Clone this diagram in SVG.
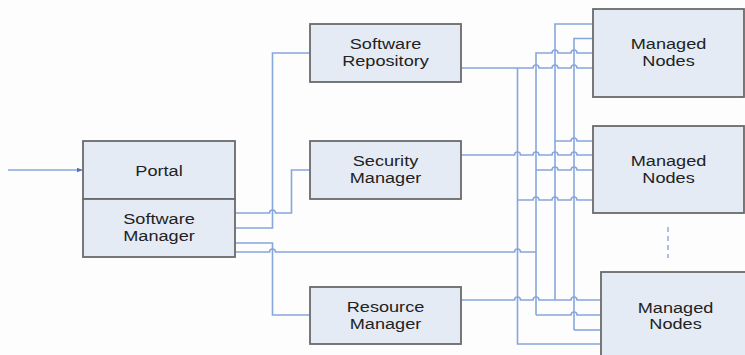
<svg xmlns="http://www.w3.org/2000/svg" width="745" height="355" viewBox="0 0 745 355">
  <style>
    .box { fill: #e5ebf5; stroke: #6a6a6a; stroke-width: 1.8; }
    .lbl { font-family: "Liberation Sans", Arial, sans-serif; font-size: 15px; fill: #222; text-anchor: middle; }
    .wire { fill: none; stroke: #86a7dc; stroke-width: 1.6; }
    .dash { fill: none; stroke: #86a7dc; stroke-width: 1.4; stroke-dasharray: 5 4; }
  </style>
  <defs>
    <marker id="arrow" viewBox="0 0 10 10" refX="9" refY="5" markerWidth="6" markerHeight="6" orient="auto" markerUnits="userSpaceOnUse">
      <path d="M0 1 L10 5 L0 9 Z" fill="#4a72c0"/>
    </marker>
  </defs>
  <rect width="745" height="355" fill="#fdfdfd"/>

  <!-- connectors: horizontal runs hop over vertical buses with small arcs -->
  <g id="connectors">
    <path class="wire" d="M8 170 H82" marker-end="url(#arrow)"/>
    <!-- software manager outputs -->
    <path class="wire" d="M235 213 H269.5 A3 3 0 0 1 275.5 213 H291.5 V170 H310"/>
    <path class="wire" d="M235 228 H272.5 V53 H310"/>
    <path class="wire" d="M235 243 H272.5 V315 H310"/>
    <path class="wire" d="M235 252 H269.5 A3 3 0 0 1 275.5 252 H514.5 A3 3 0 0 1 520.5 252 H536"/>
    <!-- repository to first node group, feeding bus 518 -->
    <path class="wire" d="M461 68 H533 A3 3 0 0 1 539 68 H552 A3 3 0 0 1 558 68 H571 A3 3 0 0 1 577 68 H593"/>
    <!-- security manager -->
    <path class="wire" d="M461 155 H514.5 A3 3 0 0 1 520.5 155 H533 A3 3 0 0 1 539 155 H552 A3 3 0 0 1 558 155 H571 A3 3 0 0 1 577 155 H593"/>
    <!-- resource manager -->
    <path class="wire" d="M461 300 H514.5 A3 3 0 0 1 520.5 300 H533 A3 3 0 0 1 539 300 H571 A3 3 0 0 1 577 300 H601"/>
    <!-- vertical buses -->
    <path class="wire" d="M517.5 68 V344 H601"/>
    <path class="wire" d="M536 315 V53 H552 A3 3 0 0 1 558 53 H571 A3 3 0 0 1 577 53 H593"/>
    <path class="wire" d="M555 300 V24 H593"/>
    <path class="wire" d="M574 330 V38.5 H593"/>
    <!-- bus taps into second node group -->
    <path class="wire" d="M555 141 H571 A3 3 0 0 1 577 141 H593"/>
    <path class="wire" d="M536 170 H552 A3 3 0 0 1 558 170 H571 A3 3 0 0 1 577 170 H593"/>
    <path class="wire" d="M517.5 200 H533 A3 3 0 0 1 539 200 H552 A3 3 0 0 1 558 200 H571 A3 3 0 0 1 577 200 H593"/>
    <!-- bus taps into third node group -->
    <path class="wire" d="M536 315 H571 A3 3 0 0 1 577 315 H601"/>
    <path class="wire" d="M574 330 H601"/>
    <!-- elided node groups -->
    <path class="dash" d="M668 227 V258"/>
  </g>

  <g id="portal">
    <rect class="box" x="83" y="141" width="152" height="58"/>
    <text class="lbl" transform="translate(159 175.5) scale(1.21 1)">Portal</text>
  </g>
  <g id="software-manager">
    <rect class="box" x="83" y="199" width="152" height="58"/>
    <text class="lbl" transform="translate(159 224) scale(1.21 1)">Software</text>
    <text class="lbl" transform="translate(159 241) scale(1.21 1)">Manager</text>
  </g>
  <g id="software-repository">
    <rect class="box" x="310" y="24" width="151" height="58"/>
    <text class="lbl" transform="translate(385.5 49) scale(1.21 1)">Software</text>
    <text class="lbl" transform="translate(385.5 66) scale(1.21 1)">Repository</text>
  </g>
  <g id="security-manager">
    <rect class="box" x="310" y="141" width="151" height="58"/>
    <text class="lbl" transform="translate(385.5 166) scale(1.21 1)">Security</text>
    <text class="lbl" transform="translate(385.5 183) scale(1.21 1)">Manager</text>
  </g>
  <g id="resource-manager">
    <rect class="box" x="310" y="287" width="151" height="57"/>
    <text class="lbl" transform="translate(385.5 312) scale(1.21 1)">Resource</text>
    <text class="lbl" transform="translate(385.5 329) scale(1.21 1)">Manager</text>
  </g>
  <g id="managed-nodes-1">
    <rect class="box" x="593" y="9" width="151" height="88"/>
    <text class="lbl" transform="translate(668.5 49) scale(1.21 1)">Managed</text>
    <text class="lbl" transform="translate(668.5 66) scale(1.21 1)">Nodes</text>
  </g>
  <g id="managed-nodes-2">
    <rect class="box" x="593" y="126" width="151" height="87"/>
    <text class="lbl" transform="translate(668.5 166) scale(1.21 1)">Managed</text>
    <text class="lbl" transform="translate(668.5 183) scale(1.21 1)">Nodes</text>
  </g>
  <g id="managed-nodes-3">
    <rect class="box" x="601" y="272" width="150" height="95"/>
    <text class="lbl" transform="translate(675.5 313) scale(1.21 1)">Managed</text>
    <text class="lbl" transform="translate(675.5 329) scale(1.21 1)">Nodes</text>
  </g>
</svg>
